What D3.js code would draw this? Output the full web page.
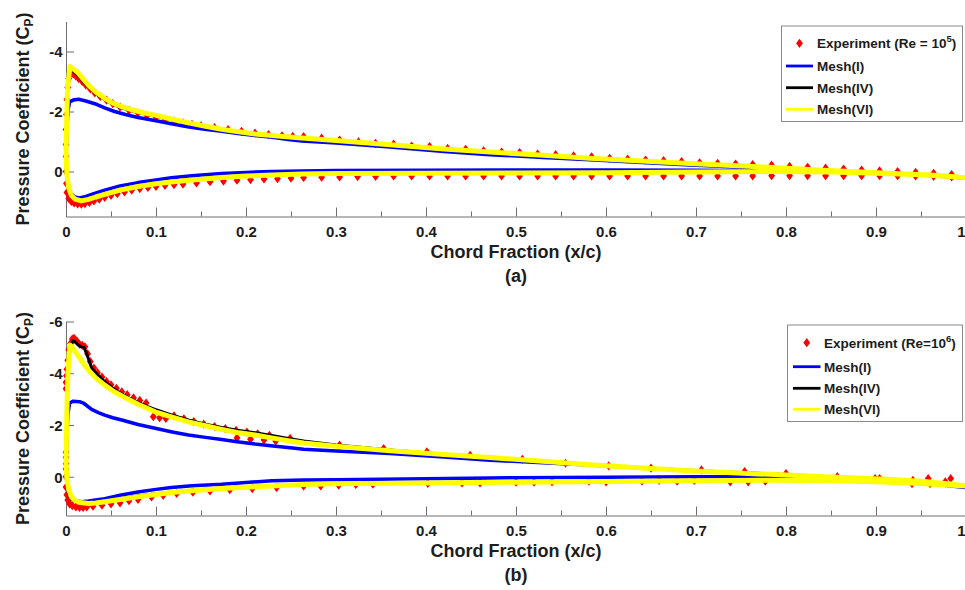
<!DOCTYPE html>
<html>
<head>
<meta charset="utf-8">
<script src="https://cdn.jsdelivr.net/npm/d3@7"></script>
<style>
  html, body { margin: 0; padding: 0; background: #fff; }
  svg { display: block; font-family: "Liberation Sans", Arial, sans-serif; font-weight: bold; }
</style>
</head>
<body>
<svg id="chart" width="965" height="590"></svg>
<script>
// ---------- Axis ticks ----------
const xTicks = [0, 0.1, 0.2, 0.3, 0.4, 0.5, 0.6, 0.7, 0.8, 0.9, 1];
const xTickLabels = ["0", "0.1", "0.2", "0.3", "0.4", "0.5", "0.6", "0.7", "0.8", "0.9", "1"];
const xMinorTicks = [0.05, 0.15, 0.25, 0.35, 0.45, 0.55, 0.65, 0.75, 0.85, 0.95];
const yTicksA = [-4, -2, 0];
const yTickLabelsA = ["-4", "-2", "0"];
const yTicksB = [-6, -4, -2, 0];
const yTickLabelsB = ["-6", "-4", "-2", "0"];
const yDomainA = [-5, 1.5];
const yDomainB = [-6, 1.5];

const seriesNames = ["Mesh(I)", "Mesh(IV)", "Mesh(VI)"];

// ---------- Panel (a): Re = 1e5, [x/c, Cp] ----------
const expUpperA = [[0,-0.9],[0,-1.4],[0.0005,-1.9],[0.001,-2.4],[0.002,-2.8],[0.003,-3.1],[0.005,-3.25],[0.008,-3.25],[0.011,-3.18],[0.014,-3.1],[0.018,-3.0],[0.022,-2.88],[0.027,-2.75],[0.032,-2.62],[0.038,-2.5],[0.045,-2.38],[0.052,-2.26],[0.06,-2.15],[0.07,-2.04],[0.08,-1.95],[0.09,-1.87],[0.1,-1.8],[0.11,-1.74],[0.12,-1.68],[0.13,-1.62],[0.14,-1.57],[0.15,-1.52],[0.165,-1.46],[0.18,-1.4],[0.195,-1.34],[0.21,-1.28],[0.225,-1.23],[0.24,-1.19],[0.252,-1.17],
  [0.264,-1.16],[0.284,-1.11],[0.304,-1.05],[0.325,-0.99],[0.344,-0.94],[0.364,-0.91],[0.384,-0.85],[0.404,-0.83],[0.424,-0.77],[0.444,-0.74],[0.464,-0.69],[0.484,-0.65],[0.504,-0.63],[0.524,-0.58],[0.544,-0.56],[0.564,-0.52],[0.584,-0.49],[0.604,-0.44],[0.624,-0.41],[0.644,-0.38],[0.664,-0.36],[0.684,-0.33],[0.704,-0.29],[0.724,-0.27],[0.744,-0.25],[0.763,-0.23],[0.784,-0.21],[0.804,-0.17],[0.824,-0.14],[0.844,-0.11],[0.864,-0.08],[0.884,-0.05],[0.904,-0.02],[0.924,0.0],[0.944,0.03],[0.964,0.06],[0.984,0.1]];
const expLowerA = [[0,-0.5],[0,0.0],[0.0005,0.4],[0.001,0.7],[0.003,0.9],[0.006,1.0],[0.009,1.05],[0.013,1.08],[0.017,1.09],[0.021,1.07],[0.026,1.03],[0.031,0.98],[0.037,0.92],[0.043,0.86],[0.05,0.8],[0.057,0.74],[0.065,0.68],[0.073,0.62],[0.082,0.57],[0.091,0.53],[0.1,0.5],[0.11,0.46],[0.12,0.44],[0.13,0.42],[0.145,0.38],[0.16,0.34],[0.175,0.32],[0.19,0.29],[0.205,0.27],[0.22,0.25],[0.235,0.24],[0.25,0.22],
  [0.264,0.2],[0.284,0.19],[0.304,0.18],[0.324,0.17],[0.344,0.16],[0.364,0.15],[0.384,0.15],[0.404,0.15],[0.424,0.15],[0.444,0.15],[0.464,0.15],[0.484,0.15],[0.504,0.15],[0.524,0.15],[0.544,0.15],[0.564,0.15],[0.584,0.15],[0.604,0.15],[0.624,0.15],[0.644,0.15],[0.664,0.15],[0.684,0.15],[0.704,0.15],[0.724,0.15],[0.744,0.15],[0.763,0.15],[0.784,0.14],[0.804,0.14],[0.824,0.14],[0.844,0.14],[0.864,0.14],[0.884,0.14],[0.904,0.14],[0.924,0.14],[0.944,0.15],[0.964,0.16],[0.984,0.18]];

const mesh1UpperA = [[0,-0.4],[0.001,-1.3],[0.002,-2.0],[0.004,-2.32],[0.008,-2.38],[0.014,-2.41],[0.022,-2.35],[0.032,-2.26],[0.043,-2.12],[0.054,-2.0],[0.066,-1.9],[0.08,-1.8],[0.1,-1.69],[0.117,-1.59],[0.135,-1.49],[0.154,-1.41],[0.173,-1.34],[0.191,-1.27],[0.21,-1.2],[0.229,-1.14],[0.249,-1.06],[0.262,-1.02],[0.3,-0.95],[0.36,-0.82],[0.42,-0.67],[0.471,-0.56],[0.53,-0.47],[0.582,-0.39],[0.64,-0.3],[0.693,-0.22],[0.74,-0.16],[0.782,-0.12],[0.83,-0.05],[0.871,0.01],[0.92,0.07],[0.96,0.13],[1.0,0.22]];
const mesh1LowerA = [[0,-0.4],[0.001,0.2],[0.003,0.55],[0.006,0.75],[0.01,0.85],[0.015,0.88],[0.022,0.83],[0.03,0.75],[0.043,0.62],[0.06,0.48],[0.08,0.37],[0.1,0.28],[0.117,0.21],[0.14,0.14],[0.173,0.07],[0.2,0.03],[0.229,0.0],[0.262,-0.02],[0.3,-0.03],[0.4,-0.04],[0.5,-0.05],[0.6,-0.05],[0.7,-0.04],[0.8,-0.02],[0.85,0.0],[0.9,0.05],[0.95,0.11],[1.0,0.22]];
const mesh4UpperA = [[0,-0.6],[0.001,-2.0],[0.002,-2.8],[0.005,-3.38],[0.008,-3.35],[0.013,-3.22],[0.018,-3.05],[0.025,-2.82],[0.033,-2.6],[0.043,-2.4],[0.052,-2.24],[0.062,-2.12],[0.075,-2.0],[0.087,-1.92],[0.099,-1.85],[0.118,-1.72],[0.136,-1.6],[0.155,-1.49],[0.173,-1.4],[0.19,-1.32],[0.21,-1.24],[0.235,-1.17],[0.262,-1.11],[0.3,-1.02],[0.36,-0.88],[0.42,-0.74],[0.471,-0.64],[0.53,-0.53],[0.582,-0.43],[0.64,-0.34],[0.693,-0.26],[0.74,-0.19],[0.782,-0.13],[0.83,-0.06],[0.871,0.0],[0.92,0.07],[0.96,0.12],[1.0,0.2]];
const mesh4LowerA = [[0,-0.6],[0.001,0.1],[0.003,0.55],[0.006,0.78],[0.01,0.9],[0.017,0.96],[0.025,0.91],[0.033,0.83],[0.043,0.74],[0.06,0.6],[0.08,0.48],[0.1,0.39],[0.117,0.33],[0.14,0.26],[0.173,0.18],[0.2,0.14],[0.229,0.11],[0.262,0.07],[0.3,0.06],[0.4,0.05],[0.5,0.04],[0.6,0.03],[0.7,0.02],[0.78,0.0],[0.85,0.02],[0.9,0.06],[0.95,0.11],[1.0,0.2]];
const mesh6UpperA = [[0,-0.6],[0.001,-2.0],[0.002,-2.9],[0.0045,-3.5],[0.008,-3.42],[0.013,-3.3],[0.018,-3.12],[0.025,-2.88],[0.033,-2.65],[0.043,-2.44],[0.052,-2.28],[0.062,-2.16],[0.075,-2.04],[0.087,-1.95],[0.099,-1.88],[0.118,-1.74],[0.136,-1.62],[0.155,-1.51],[0.173,-1.41],[0.19,-1.33],[0.21,-1.25],[0.235,-1.18],[0.262,-1.12],[0.3,-1.03],[0.36,-0.89],[0.42,-0.75],[0.471,-0.65],[0.53,-0.54],[0.582,-0.44],[0.64,-0.35],[0.693,-0.27],[0.74,-0.2],[0.782,-0.14],[0.83,-0.06],[0.871,0.0],[0.92,0.07],[0.96,0.12],[1.0,0.2]];
const mesh6LowerA = [[0,-0.6],[0.001,0.1],[0.003,0.55],[0.006,0.8],[0.01,0.92],[0.017,0.98],[0.025,0.93],[0.033,0.85],[0.043,0.76],[0.06,0.62],[0.08,0.5],[0.1,0.41],[0.117,0.35],[0.14,0.28],[0.173,0.2],[0.2,0.15],[0.229,0.12],[0.262,0.08],[0.3,0.07],[0.4,0.06],[0.5,0.05],[0.6,0.04],[0.7,0.02],[0.78,0.0],[0.85,0.02],[0.9,0.06],[0.95,0.11],[1.0,0.2]];

// ---------- Panel (b): Re = 1e6, [x/c, Cp] ----------
const expUpperB = [[0,-0.5],[0,-0.75],[0,-0.95],[0,-3.4],[0,-3.65],[0.0005,-3.9],[0.001,-4.15],[0.002,-4.5],[0.003,-4.9],[0.005,-5.15],[0.007,-5.32],[0.009,-5.35],[0.012,-5.25],[0.015,-5.12],[0.018,-5.08],[0.021,-5.02],[0.024,-4.75],[0.027,-4.45],[0.031,-4.2],[0.035,-4.02],[0.04,-3.85],[0.045,-3.68],[0.05,-3.55],[0.056,-3.42],[0.062,-3.28],[0.068,-3.17],[0.075,-3.05],[0.082,-2.95],[0.089,-2.85],[0.097,-2.32],[0.104,-2.28],[0.111,-2.25],[0.12,-2.35],[0.131,-2.24],[0.142,-2.13],[0.153,-2.03],[0.165,-1.94],[0.177,-1.86],[0.189,-1.79],[0.19,-1.5],[0.201,-1.72],[0.205,-1.45],[0.213,-1.66],[0.22,-1.42],[0.226,-1.6],[0.233,-1.38],[0.249,-1.48],[0.304,-1.22],[0.353,-1.09],[0.401,-0.96],[0.449,-0.83],[0.507,-0.67],[0.555,-0.52],[0.603,-0.42],[0.65,-0.33],[0.706,-0.26],[0.754,-0.2],[0.8,-0.12],[0.857,0.0],[0.899,0.07],[0.904,0.07],[0.941,0.14],[0.958,0.07],[0.977,0.2],[0.983,0.07]];
const expLowerB = [[0,-0.3],[0,0.0],[0,0.4],[0.001,0.7],[0.002,0.9],[0.004,1.05],[0.007,1.12],[0.011,1.17],[0.015,1.19],[0.019,1.19],[0.023,1.17],[0.03,1.14],[0.04,1.1],[0.05,1.05],[0.06,1.01],[0.07,0.93],[0.08,0.88],[0.095,0.78],[0.108,0.72],[0.123,0.65],[0.141,0.6],[0.16,0.55],[0.182,0.5],[0.207,0.46],[0.234,0.42],[0.264,0.36],[0.283,0.36],[0.303,0.33],[0.322,0.3],[0.341,0.29],[0.402,0.26],[0.44,0.24],[0.46,0.24],[0.5,0.21],[0.52,0.21],[0.54,0.2],[0.581,0.17],[0.6,0.2],[0.64,0.17],[0.659,0.14],[0.679,0.17],[0.698,0.14],[0.738,0.2],[0.758,0.2],[0.777,0.17],[0.94,0.27],[0.96,0.27],[0.977,0.24]];

const mesh1UpperB = [[0,-0.3],[0.001,-1.5],[0.002,-2.4],[0.004,-2.85],[0.008,-2.92],[0.015,-2.9],[0.02,-2.83],[0.0285,-2.6],[0.036,-2.48],[0.043,-2.38],[0.052,-2.28],[0.062,-2.19],[0.08,-2.02],[0.099,-1.87],[0.118,-1.73],[0.136,-1.61],[0.155,-1.52],[0.173,-1.44],[0.19,-1.35],[0.21,-1.26],[0.23,-1.19],[0.249,-1.12],[0.264,-1.06],[0.3,-0.99],[0.36,-0.9],[0.42,-0.76],[0.471,-0.64],[0.53,-0.54],[0.582,-0.45],[0.64,-0.34],[0.693,-0.24],[0.74,-0.16],[0.782,-0.1],[0.83,-0.02],[0.87,0.05],[0.91,0.12],[0.95,0.2],[0.98,0.3],[1.0,0.42]];
const mesh1LowerB = [[0,-0.3],[0.001,0.3],[0.003,0.65],[0.006,0.85],[0.01,0.93],[0.0174,0.97],[0.025,0.94],[0.033,0.9],[0.043,0.85],[0.06,0.72],[0.08,0.59],[0.1,0.49],[0.117,0.42],[0.14,0.35],[0.173,0.29],[0.2,0.22],[0.229,0.16],[0.264,0.13],[0.3,0.12],[0.4,0.08],[0.5,0.04],[0.6,0.02],[0.7,0.0],[0.75,0.0],[0.8,0.03],[0.85,0.08],[0.9,0.14],[0.95,0.23],[1.0,0.42]];
const mesh4UpperB = [[0,-0.5],[0.001,-2.5],[0.002,-3.8],[0.004,-4.8],[0.006,-5.15],[0.008,-5.26],[0.011,-5.18],[0.014,-5.08],[0.017,-5.02],[0.02,-5.0],[0.023,-4.75],[0.026,-4.45],[0.0285,-4.2],[0.034,-3.98],[0.043,-3.67],[0.052,-3.42],[0.062,-3.19],[0.071,-3.02],[0.08,-2.87],[0.09,-2.72],[0.099,-2.6],[0.118,-2.38],[0.136,-2.19],[0.155,-2.03],[0.173,-1.9],[0.19,-1.8],[0.21,-1.7],[0.23,-1.58],[0.247,-1.48],[0.264,-1.38],[0.3,-1.23],[0.36,-1.03],[0.42,-0.87],[0.471,-0.74],[0.53,-0.6],[0.582,-0.47],[0.64,-0.35],[0.693,-0.24],[0.74,-0.16],[0.782,-0.1],[0.83,-0.03],[0.87,0.03],[0.91,0.09],[0.95,0.18],[0.98,0.27],[1.0,0.36]];
const mesh4LowerB = [[0,-0.5],[0.001,0.2],[0.003,0.6],[0.006,0.85],[0.01,0.95],[0.016,1.0],[0.022,1.02],[0.03,1.0],[0.043,0.94],[0.06,0.85],[0.08,0.75],[0.1,0.66],[0.117,0.59],[0.14,0.52],[0.173,0.44],[0.2,0.39],[0.229,0.34],[0.264,0.29],[0.3,0.26],[0.4,0.23],[0.5,0.2],[0.6,0.18],[0.7,0.15],[0.78,0.14],[0.85,0.16],[0.9,0.2],[0.95,0.26],[1.0,0.36]];
const mesh6UpperB = [[0,-0.5],[0.001,-2.5],[0.002,-3.9],[0.0035,-4.8],[0.0045,-5.09],[0.007,-5.0],[0.01,-4.85],[0.015,-4.6],[0.02,-4.35],[0.025,-4.12],[0.033,-3.82],[0.043,-3.54],[0.052,-3.32],[0.062,-3.12],[0.08,-2.8],[0.099,-2.51],[0.118,-2.3],[0.136,-2.12],[0.155,-1.97],[0.173,-1.83],[0.19,-1.71],[0.21,-1.61],[0.23,-1.49],[0.247,-1.39],[0.264,-1.3],[0.3,-1.18],[0.36,-1.0],[0.42,-0.86],[0.471,-0.74],[0.53,-0.6],[0.582,-0.46],[0.64,-0.34],[0.693,-0.23],[0.74,-0.15],[0.782,-0.09],[0.83,-0.02],[0.87,0.04],[0.91,0.1],[0.95,0.18],[0.98,0.27],[1.0,0.36]];
const mesh6LowerB = [[0,-0.5],[0.001,0.1],[0.003,0.5],[0.006,0.78],[0.01,0.92],[0.016,1.0],[0.025,1.04],[0.033,1.02],[0.043,0.97],[0.06,0.88],[0.08,0.78],[0.1,0.69],[0.117,0.61],[0.14,0.54],[0.173,0.46],[0.2,0.41],[0.229,0.36],[0.264,0.3],[0.3,0.27],[0.4,0.24],[0.5,0.21],[0.6,0.19],[0.7,0.16],[0.78,0.14],[0.85,0.16],[0.9,0.2],[0.95,0.26],[1.0,0.36]];

// ---------- Styling ----------
const meshStyle = [
  { color: "#0000ff", width: 3.5 },
  { color: "#000000", width: 3 },
  { color: "#ffff00", width: 5 }
];
const expColor = "#ff0000";
const axisColor = "#6e6e6e";
const textColor = "#1c1c1c";

const svg = d3.select("#chart");
const xScale = d3.scaleLinear().domain([0, 1]).range([66, 966]);
const diamond = "M0,-4.6L3.4,0L0,4.6L-3.4,0Z";

function drawPanel(p) {
  const g = svg.append("g");
  const y = d3.scaleLinear().domain(p.yDomain).range([p.top, p.bottom]);
  const line = d3.line().x(d => xScale(d[0])).y(d => y(d[1]));

  // x axis: major + minor inward ticks
  const xAxis = g.append("g").attr("transform", `translate(0,${p.bottom})`)
    .call(d3.axisBottom(xScale).tickValues(xTicks).tickSize(-9).tickSizeOuter(0)
      .tickFormat((d, i) => xTickLabels[i]));
  xAxis.select(".domain").attr("stroke", axisColor);
  xAxis.selectAll(".tick line").attr("stroke", axisColor);
  xAxis.selectAll(".tick text").attr("y", 20.5).attr("dy", null)
    .attr("fill", textColor).style("font-size", "15px").style("font-weight", "bold")
    .style("font-family", '"Liberation Sans", Arial, sans-serif');
  // the last label sits at the right edge of the page: keep it inside
  xAxis.selectAll(".tick text").filter(d => d === 1)
    .attr("text-anchor", "end").attr("x", -1);
  const xMinor = g.append("g").attr("transform", `translate(0,${p.bottom})`)
    .call(d3.axisBottom(xScale).tickValues(xMinorTicks).tickSize(-5).tickSizeOuter(0).tickFormat(""));
  xMinor.select(".domain").remove();
  xMinor.selectAll(".tick line").attr("stroke", axisColor);

  // y axis: inward ticks, negative Cp upward
  const yAxis = g.append("g").attr("transform", "translate(66,0)")
    .call(d3.axisLeft(y).tickValues(p.yTicks).tickSize(-8).tickSizeOuter(0)
      .tickFormat((d, i) => p.yTickLabels[i]));
  yAxis.select(".domain").attr("stroke", axisColor);
  yAxis.selectAll(".tick line").attr("stroke", axisColor);
  yAxis.selectAll(".tick text").attr("x", -3.5).attr("dy", "0.36em")
    .attr("fill", textColor).style("font-size", "15px").style("font-weight", "bold")
    .style("font-family", '"Liberation Sans", Arial, sans-serif');

  // experiment markers (drawn first, lines on top)
  const pts = p.expUpper.concat(p.expLower);
  g.append("g").selectAll("path").data(pts).join("path")
    .attr("d", diamond)
    .attr("transform", d => `translate(${xScale(d[0])},${y(d[1])})`)
    .attr("fill", expColor);

  // mesh curves: closed loop, upper TE -> LE -> lower TE
  p.meshes.forEach((m, i) => {
    const loop = m[0].slice().reverse().concat(m[1].slice(1));
    g.append("path").datum(loop)
      .attr("d", line)
      .attr("fill", "none")
      .attr("stroke", meshStyle[i].color)
      .attr("stroke-width", meshStyle[i].width)
      .attr("stroke-linejoin", "round")
      .attr("stroke-linecap", "round");
  });

  // axis titles
  const yt = g.append("text")
    .attr("transform", `translate(29,${(p.top + p.bottom) / 2}) rotate(-90)`)
    .attr("text-anchor", "middle").attr("fill", textColor)
    .style("font-size", "18px");
  yt.append("tspan").text("Pressure Coefficient (C");
  yt.append("tspan").text("P").style("font-size", "12px").attr("dy", 4);
  yt.append("tspan").text(")").attr("dy", -4);

  g.append("text").attr("x", 516).attr("y", p.bottom + 41)
    .attr("text-anchor", "middle").attr("fill", textColor)
    .style("font-size", "18px").text("Chord Fraction (x/c)");
  g.append("text").attr("x", 516).attr("y", p.bottom + 65)
    .attr("text-anchor", "middle").attr("fill", textColor)
    .style("font-size", "18px").text(p.caption);

  // legend
  const L = p.legend;
  g.append("rect").attr("x", L.x).attr("y", L.y).attr("width", L.w).attr("height", L.h)
    .attr("fill", "#fff").attr("stroke", "#8a8a8a").attr("stroke-width", 1);
  const rows = L.rows;
  g.append("path").attr("d", diamond)
    .attr("transform", `translate(${(L.lineX0 + L.lineX1) / 2},${rows[0]})`)
    .attr("fill", expColor);
  const et = g.append("text").attr("x", L.textX).attr("y", rows[0] + 4.8)
    .attr("fill", textColor).style("font-size", "13.5px");
  et.append("tspan").text(p.expLabel[0]);
  et.append("tspan").text(p.expLabel[1]).style("font-size", "9.5px").attr("dy", -6);
  et.append("tspan").text(")").attr("dy", 6);
  seriesNames.forEach((name, i) => {
    const ry = rows[i + 1];
    g.append("line").attr("x1", L.lineX0).attr("x2", L.lineX1).attr("y1", ry).attr("y2", ry)
      .attr("stroke", meshStyle[i].color).attr("stroke-width", 2.8);
    g.append("text").attr("x", L.textX).attr("y", ry + 4.8)
      .attr("fill", textColor).style("font-size", "13.5px").text(name);
  });
}

drawPanel({
  top: 21.5, bottom: 216.5, yDomain: yDomainA, yTicks: yTicksA, yTickLabels: yTickLabelsA,
  expUpper: expUpperA, expLower: expLowerA,
  meshes: [[mesh1UpperA, mesh1LowerA], [mesh4UpperA, mesh4LowerA], [mesh6UpperA, mesh6LowerA]],
  caption: "(a)", expLabel: ["Experiment (Re = 10", "5"],
  legend: { x: 781.5, y: 26, w: 181, h: 95.5, rows: [43.3, 66, 87.7, 109.3], lineX0: 786, lineX1: 813, textX: 817 }
});
drawPanel({
  top: 321.5, bottom: 515.5, yDomain: yDomainB, yTicks: yTicksB, yTickLabels: yTickLabelsB,
  expUpper: expUpperB, expLower: expLowerB,
  meshes: [[mesh1UpperB, mesh1LowerB], [mesh4UpperB, mesh4LowerB], [mesh6UpperB, mesh6LowerB]],
  caption: "(b)", expLabel: ["Experiment (Re=10", "6"],
  legend: { x: 787.5, y: 325, w: 175, h: 96.5, rows: [342.7, 366.7, 388.3, 409.3], lineX0: 793, lineX1: 820.5, textX: 824 }
});
</script>
</body>
</html>
